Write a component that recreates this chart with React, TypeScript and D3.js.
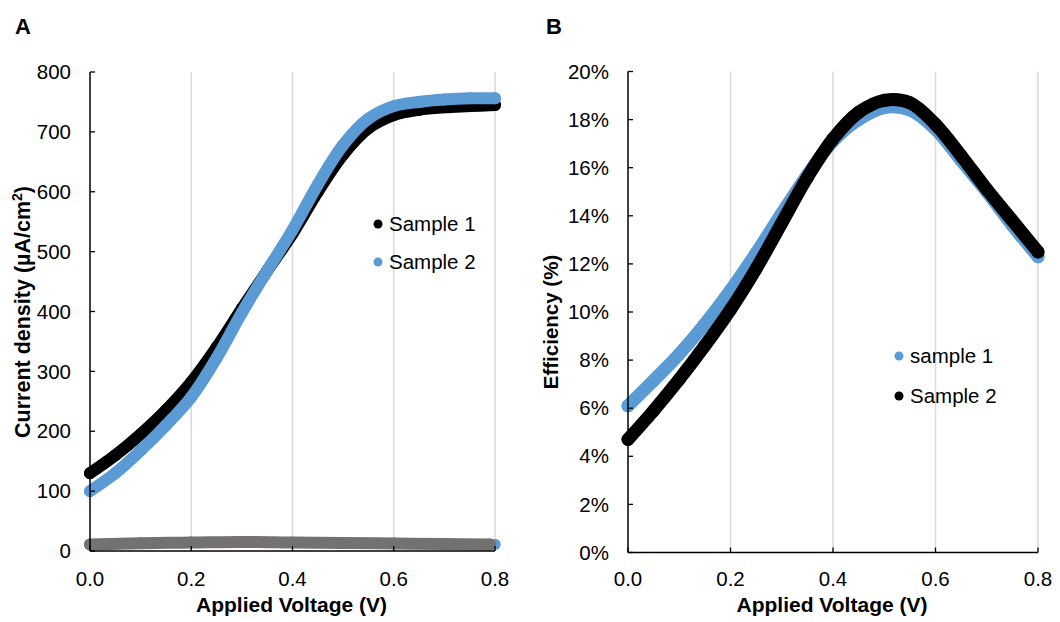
import React from 'react';
import * as d3 from 'd3';

// ---- Data ----
const voltage = [0, 0.05, 0.1, 0.15, 0.2, 0.25, 0.3, 0.35, 0.4, 0.45, 0.5, 0.55, 0.6, 0.65, 0.7, 0.75, 0.8];
const currentSample1 = [130, 160, 195, 235, 282, 340, 405, 468, 530, 600, 662, 706, 728, 737, 741, 743, 745];
const currentSample2 = [100, 130, 168, 210, 257, 322, 398, 468, 536, 612, 678, 722, 743, 750, 754, 756, 756];
const darkVoltageGray = [0, 0.1, 0.2, 0.3, 0.4, 0.5, 0.6, 0.7, 0.79];
const darkCurrentGray = [11, 13, 14, 15, 14, 13.5, 12.5, 11.5, 11];
const darkVoltageBlue = [0.8];
const darkCurrentBlue = [11];
const effSample1 = [6.1, 7.15, 8.25, 9.5, 10.9, 12.45, 14.1, 15.7, 17.1, 18.0, 18.5, 18.4, 17.6, 16.3, 15.0, 13.6, 12.3];
const effSample2 = [4.7, 5.9, 7.2, 8.6, 10.1, 11.8, 13.7, 15.6, 17.2, 18.3, 18.8, 18.7, 17.8, 16.5, 15.1, 13.8, 12.5];
const xTicks = [0, 0.2, 0.4, 0.6, 0.8];
const currentTicks = [0, 100, 200, 300, 400, 500, 600, 700, 800];
const effTicks = [0, 2, 4, 6, 8, 10, 12, 14, 16, 18, 20];
const legendA = ['Sample 1', 'Sample 2'];
const legendB = ['sample 1', 'Sample 2'];

const BLUE = '#5b9bd5';
const BLACK = '#000000';
const GRAY = '#767171';
const FONT = '"Liberation Sans", Arial, sans-serif';

type Series = { xs: number[]; ys: number[]; color: string; r: number };

function Panel(props: {
  x0: number; x1: number; yTop: number; yBot: number;
  yDomain: [number, number]; yTicks: number[]; yFmt: (v: number) => string;
  series: Series[]; label: string; labelX: number;
  yTitle: React.ReactNode; yTitleX: number; yTitleY: number; yTitleSize: number;
  legend: { name: string; color: string }[]; legX: number; legY: number[];
}) {
  const x = d3.scaleLinear().domain([0, 0.8]).range([props.x0, props.x1]);
  const y = d3.scaleLinear().domain(props.yDomain).range([props.yBot, props.yTop]);
  const fx = d3.format('.1f');
  return (
    <g>
      <text x={props.labelX} y={34} fontFamily={FONT} fontWeight="bold" fontSize={22}>{props.label}</text>
      {xTicks.filter(t => t > 0).map(t => (
        <line key={'g' + t} x1={x(t)} x2={x(t)} y1={props.yTop} y2={props.yBot} stroke="#d9d9d9" strokeWidth={1.5} />
      ))}
      {props.series.map((s, i) => {
        const pts = s.xs.map((v, k) => [x(v), y(s.ys[k])] as [number, number]);
        const path = d3.line().curve(d3.curveCatmullRom)(pts) || '';
        return (
          <g key={i}>
            <path d={path} fill="none" stroke={s.color} strokeWidth={s.r * 2} strokeLinecap="round" strokeLinejoin="round" />
            {pts.map((p, k) => <circle key={k} cx={p[0]} cy={p[1]} r={s.r} fill={s.color} />)}
          </g>
        );
      })}
      <line x1={props.x0} x2={props.x0} y1={props.yTop} y2={props.yBot} stroke="#000" strokeWidth={1.5} />
      <line x1={props.x0} x2={props.x1} y1={props.yBot} y2={props.yBot} stroke="#000" strokeWidth={1.5} />
      {props.yTicks.map(t => (
        <g key={'y' + t}>
          <line x1={props.x0} x2={props.x0 + 5} y1={y(t)} y2={y(t)} stroke="#000" strokeWidth={1.3} />
          <text x={props.x0 - 19} y={y(t)} dy="0.35em" textAnchor="end" fontFamily={FONT} fontSize={20.5} fill="#000">{props.yFmt(t)}</text>
        </g>
      ))}
      {xTicks.map(t => (
        <g key={'x' + t}>
          <line x1={x(t)} x2={x(t)} y1={props.yBot} y2={props.yBot - 5} stroke="#000" strokeWidth={1.3} />
          <text x={x(t)} y={586} textAnchor="middle" fontFamily={FONT} fontSize={20.5} fill="#000">{fx(t)}</text>
        </g>
      ))}
      <text x={(props.x0 + props.x1) / 2 - 1} y={612} textAnchor="middle" fontFamily={FONT} fontWeight="bold" fontSize={21}>Applied Voltage (V)</text>
      <text transform={`translate(${props.yTitleX},${props.yTitleY}) rotate(-90)`} textAnchor="middle" fontFamily={FONT} fontWeight="bold" fontSize={props.yTitleSize}>{props.yTitle}</text>
      {props.legend.map((l, i) => (
        <g key={l.name}>
          <circle cx={props.legX} cy={props.legY[i]} r={4.5} fill={l.color} />
          <text x={props.legX + 11} y={props.legY[i]} dy="0.36em" fontFamily={FONT} fontSize={20.5}>{l.name}</text>
        </g>
      ))}
    </g>
  );
}

export default function App() {
  return (
    <svg width={1060} height={622} style={{ position: 'absolute', left: 0, top: 0, background: '#fff' }}>
      <rect width={1060} height={622} fill="#fff" />
      <Panel
        x0={90} x1={495} yTop={72} yBot={551}
        yDomain={[0, 800]} yTicks={currentTicks} yFmt={v => String(v)}
        series={[
          { xs: darkVoltageBlue, ys: darkCurrentBlue, color: BLUE, r: 5.5 },
          { xs: darkVoltageGray, ys: darkCurrentGray, color: GRAY, r: 6 },
          { xs: voltage, ys: currentSample1, color: BLACK, r: 6 },
          { xs: voltage, ys: currentSample2, color: BLUE, r: 6 },
        ]}
        label="A" labelX={15}
        yTitle={<>Current density (µA/cm<tspan baselineShift="super" fontSize={14}>2</tspan>)</>}
        yTitleX={30} yTitleY={312} yTitleSize={21.5}
        legend={[{ name: legendA[0], color: BLACK }, { name: legendA[1], color: BLUE }]}
        legX={378} legY={[224, 262]}
      />
      <Panel
        x0={628} x1={1038} yTop={71.5} yBot={552.5}
        yDomain={[0, 20]} yTicks={effTicks} yFmt={v => `${v}%`}
        series={[
          { xs: voltage, ys: effSample1, color: BLUE, r: 6.5 },
          { xs: voltage, ys: effSample2, color: BLACK, r: 6.5 },
        ]}
        label="B" labelX={546}
        yTitle="Efficiency (%)"
        yTitleX={558} yTitleY={322} yTitleSize={20.5}
        legend={[{ name: legendB[0], color: BLUE }, { name: legendB[1], color: BLACK }]}
        legX={899} legY={[356, 396]}
      />
    </svg>
  );
}
